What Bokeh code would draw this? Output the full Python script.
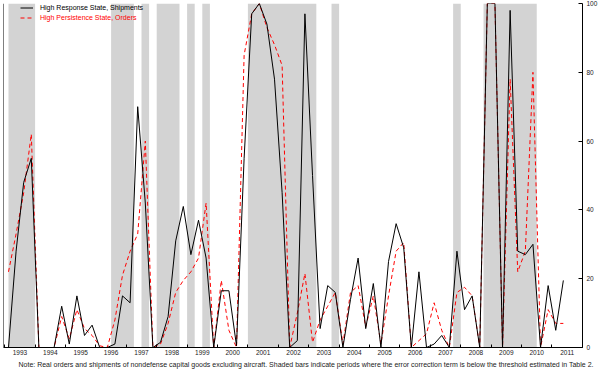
from bokeh.plotting import figure
from bokeh.models import (ColumnDataSource, Range1d, FixedTicker, Legend, LegendItem,
                          Title, Span)
from bokeh.embed import file_html
from bokeh.resources import INLINE

# ---------------- data (quarterly, 1993Q1 .. 2011Q2) ----------------
start_year = 1993
shipments = [0, 28, 48, 55,
             0, 0, 0, 12,
             1, 15, 3.5, 6.5,
             0, 0, 1, 15,
             13, 70, 42, 0,
             1.5, 9, 31, 41,
             27, 37, 26, 0,
             16.5, 16.5, 0.5, 55,
             97, 100, 94, 78,
             45, 0, 2, 97,
             50, 5.5, 18, 16,
             0, 14, 26, 5.5,
             18.6, 0, 25, 36,
             29, 0, 22, 0,
             1, 3.5, 0, 28,
             11, 15, 0, 100,
             100, 0, 98, 28,
             27, 30, 0, 18,
             5, 19.5]
orders = [22, 33, 45, 62,
          0, 0, 0, 9,
          2.5, 11, 5.5, 3.5,
          0.5, 0, 8, 21,
          28, 33, 60, 0,
          1, 7, 16, 19.5,
          22, 26, 42, 0,
          19.5, 5, 0, 85,
          97, 100, 93, 88,
          82, 0, 10, 21.5,
          1.5, 8, 12, 16,
          1, 16, 18, 6,
          15, 1, 15, 28,
          30.5, 0, 2, 4,
          13, 5, 0, 16,
          17.5, 15, 0, 100,
          100, 0, 78, 22,
          28, 80, 0, 11,
          7, 7]
# shaded periods (first and last quarter of each run, as year fractions)
shade_start = [1993.0, 1996.5, 1997.5, 1998.0, 1999.0, 1999.5, 2001.0, 2003.75, 2007.75, 2008.75]
shade_end   = [1993.75, 1997.0, 1997.5, 1998.5, 1999.0, 1999.5, 2003.0, 2003.75, 2007.75, 2010.25]
year_labels = ["1993", "1994", "1995", "1996", "1997", "1998", "1999", "2000", "2001",
               "2002", "2003", "2004", "2005", "2006", "2007", "2008", "2009", "2010", "2011"]
y_ticks = [0, 20, 40, 60, 80, 100]
legend_labels = ["High Response State, Shipments", "High Persistence State, Orders"]
note = ("Note: Real orders and shipments of nondefense capital goods excluding aircraft. "
        "Shaded bars indicate periods where the error correction term is below the threshold "
        "estimated in Table 2.")

t = [start_year + i * 0.25 for i in range(len(shipments))]
FONT = "Liberation Sans"
X0, X1 = 1992.836, 2011.88

p = figure(width=600, height=370, x_range=Range1d(X0, X1), y_range=Range1d(0, 100),
           output_backend="svg", toolbar_location=None, y_axis_location="right",
           min_border_left=3, min_border_right=15, min_border_top=3, min_border_bottom=23)
p.grid.visible = False
p.outline_line_color = None
p.background_fill_color = "white"

# shading
half_q = 0.125
shade_src = ColumnDataSource(dict(left=[max(s - half_q, start_year) for s in shade_start],
                                  right=[e + half_q for e in shade_end]))
p.quad(left="left", right="right", bottom=0, top=100, source=shade_src,
       fill_color="#d3d3d3", line_color=None)

src = ColumnDataSource(dict(t=t, ship=shipments, ord=orders))
r_ord = p.line("t", "ord", source=src, line_color="#ff0000", line_width=1, line_dash="4 3")
r_ship = p.line("t", "ship", source=src, line_color="black", line_width=1)

# x axis: year labels at middle of each year's quarters, ticks at year boundaries
label_pos = [int(y) + 0.375 for y in year_labels]
boundaries = [int(y) - 0.125 for y in year_labels] + [int(year_labels[-1]) + 0.875]
xa = p.xaxis[0]
xa.ticker = FixedTicker(ticks=label_pos, minor_ticks=boundaries)
xa.major_label_overrides = {pos: lab for pos, lab in zip(label_pos, year_labels)}
xa.major_tick_in = 0
xa.major_tick_out = 0
xa.minor_tick_in = 3
xa.minor_tick_out = 0
xa.minor_tick_line_color = "black"
xa.major_label_standoff = 2
xa.major_label_text_font = FONT
xa.major_label_text_font_size = "6.5px"
xa.major_label_text_color = "#222222"
xa.axis_line_color = "black"

# right y axis
ya = p.yaxis[0]
ya.ticker = FixedTicker(ticks=y_ticks)
ya.major_tick_in = 4
ya.major_tick_out = 0
ya.minor_tick_in = 0
ya.minor_tick_out = 0
ya.major_label_standoff = 4
ya.major_label_text_font = FONT
ya.major_label_text_font_size = "6.5px"
ya.major_label_text_color = "#222222"
ya.axis_line_color = "black"

# left frame line
p.add_layout(Span(location=X0, dimension="height", line_color="black", line_width=1))

# legends
common = dict(padding=0, margin=0, spacing=1, glyph_width=13, glyph_height=9,
              label_standoff=7, label_height=9, label_text_font=FONT,
              label_text_font_size="7px", background_fill_alpha=0, border_line_alpha=0)
leg1 = Legend(items=[LegendItem(label=legend_labels[0], renderers=[r_ship])],
              location=(17, 335), label_text_color="black", **common)
leg2 = Legend(items=[LegendItem(label=legend_labels[1], renderers=[r_ord])],
              location=(17, 325), label_text_color="#ff0000", **common)
p.add_layout(leg1)
p.add_layout(leg2)

# note under the chart
p.add_layout(Title(text=note, align="left", text_font=FONT, text_font_size="7px",
                   text_font_style="normal", text_color="#222222", offset=15, standoff=3),
             "below")

open("out.html", "w").write(file_html(p, INLINE))
